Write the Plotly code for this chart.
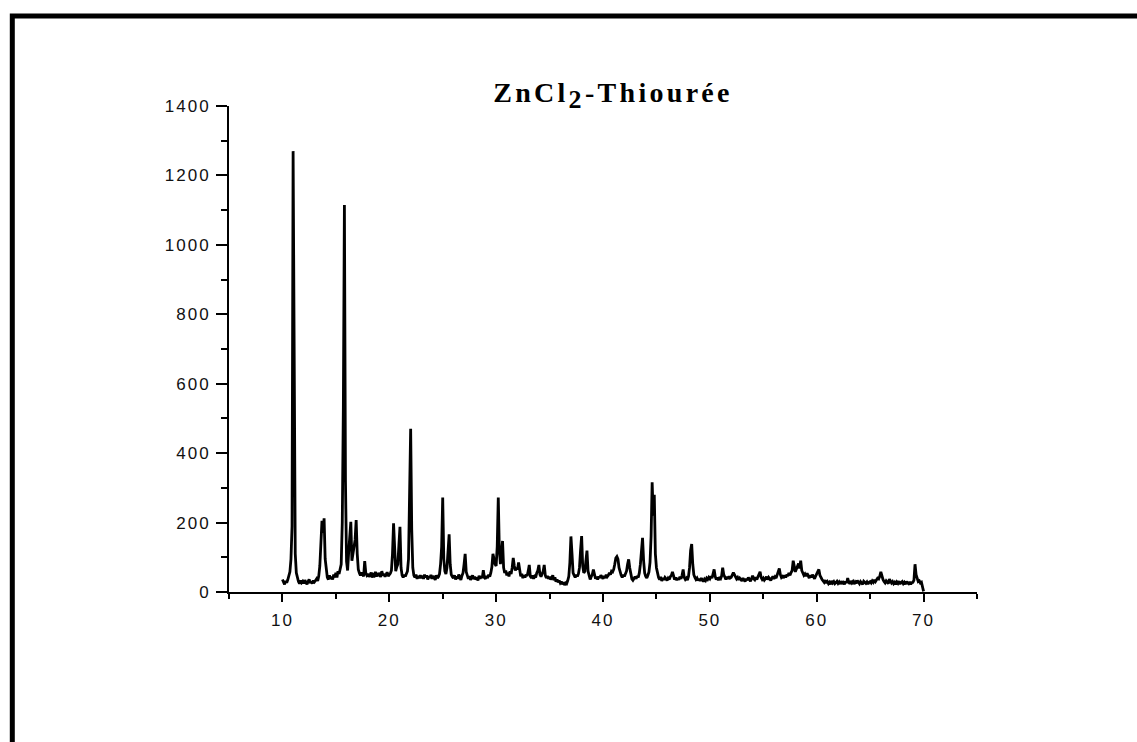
import plotly.graph_objects as go

# XRD scan: 2-theta start/step and measured intensities (one row per degree)
two_theta_start = 10.0
two_theta_step = 0.1
intensity = [
    36, 30, 22, 32, 27, 35, 44, 58, 95, 190,        # 10
    1270, 420, 110, 55, 38, 30, 24, 33, 27, 31,     # 11
    25, 34, 28, 22, 30, 36, 26, 31, 24, 33,         # 12
    29, 35, 38, 32, 46, 75, 150, 205, 170, 212,     # 13
    95, 55, 42, 36, 48, 38, 44, 36, 50, 42,         # 14
    55, 42, 60, 52, 68, 80, 200, 530, 1115, 320,    # 15
    88, 62, 115, 170, 202, 90, 105, 130, 150, 207,  # 16
    110, 65, 55, 48, 56, 50, 45, 89, 55, 48,        # 17
    52, 44, 48, 56, 42, 50, 47, 58, 45, 51,         # 18
    49, 55, 43, 60, 48, 52, 44, 50, 57, 46,         # 19
    50, 54, 62, 110, 198, 120, 60, 72, 80, 135,     # 20
    188, 70, 48, 42, 50, 45, 52, 60, 95, 300,       # 21
    470, 180, 70, 48, 42, 50, 38, 46, 40, 48,       # 22
    40, 47, 38, 50, 42, 48, 36, 45, 41, 49,         # 23
    38, 46, 42, 35, 48, 40, 44, 52, 80, 130,        # 24
    272, 95, 60, 52, 70, 110, 166, 80, 50, 44,      # 25
    40, 48, 36, 45, 38, 50, 42, 35, 47, 55,         # 26
    80, 110, 58, 44, 38, 46, 35, 42, 48, 37,        # 27
    44, 36, 42, 33, 47, 38, 45, 40, 63, 42,         # 28
    38, 46, 40, 50, 44, 55, 72, 110, 90, 80,        # 29
    75, 130, 272, 120, 80, 110, 147, 70, 55, 62,    # 30
    48, 56, 45, 60, 52, 70, 98, 75, 62, 70,         # 31
    65, 85, 58, 45, 52, 40, 48, 42, 50, 46,         # 32
    60, 78, 45, 40, 48, 38, 45, 42, 55, 62,         # 33
    78, 50, 44, 52, 60, 78, 48, 40, 46, 38,         # 34
    44, 36, 40, 48, 34, 42, 30, 36, 28, 33,         # 35
    26, 30, 22, 28, 20, 26, 24, 33, 45, 85,         # 36
    160, 110, 55, 48, 42, 50, 45, 52, 70, 120,      # 37
    161, 75, 55, 60, 85, 119, 60, 42, 36, 44,       # 38
    50, 65, 48, 38, 44, 36, 45, 40, 48, 42,         # 39
    38, 46, 40, 50, 44, 48, 55, 50, 60, 58,         # 40
    65, 80, 98, 102, 95, 70, 55, 48, 42, 50,        # 41
    45, 52, 60, 80, 94, 70, 48, 38, 34, 40,         # 42
    44, 38, 46, 42, 55, 80, 130, 156, 90, 55,       # 43
    45, 40, 48, 58, 85, 160, 316, 220, 280, 110,    # 44
    70, 50, 42, 36, 44, 32, 40, 35, 42, 38,         # 45
    33, 40, 36, 44, 48, 58, 45, 36, 42, 34,         # 46
    40, 35, 44, 38, 48, 65, 42, 36, 40, 34,         # 47
    45, 70, 120, 138, 80, 50, 42, 36, 40, 33,       # 48
    38, 32, 40, 35, 30, 37, 33, 40, 36, 42,         # 49
    38, 45, 40, 52, 65, 45, 36, 42, 34, 40,         # 50
    38, 46, 70, 50, 42, 36, 44, 38, 45, 40,         # 51
    42, 48, 56, 50, 44, 38, 42, 35, 40, 36,         # 52
    32, 40, 36, 30, 38, 34, 42, 36, 31, 38,         # 53
    47, 38, 35, 42, 36, 44, 50, 58, 42, 36,         # 54
    40, 34, 38, 44, 36, 42, 38, 33, 40, 45,         # 55
    38, 44, 40, 50, 58, 68, 50, 42, 45, 40,         # 56
    48, 42, 50, 46, 55, 48, 56, 62, 90, 70,         # 57
    58, 66, 75, 82, 68, 90, 62, 55, 48, 52,         # 58
    46, 54, 45, 40, 48, 42, 50, 44, 38, 46,         # 59
    52, 58, 65, 48, 40, 36, 32, 28, 34, 26,         # 60
    30, 24, 28, 22, 32, 26, 30, 24, 27, 31,         # 61
    25, 29, 23, 31, 26, 28, 22, 30, 26, 40,         # 62
    28, 24, 32, 26, 30, 23, 29, 25, 33, 27,         # 63
    24, 30, 26, 22, 31, 27, 25, 29, 23, 28,         # 64
    30, 26, 32, 28, 35, 30, 36, 40, 38, 45,         # 65
    58, 44, 36, 30, 26, 32, 28, 24, 37, 30,         # 66
    26, 30, 24, 28, 22, 29, 25, 31, 23, 27,         # 67
    30, 24, 28, 22, 30, 26, 24, 29, 22, 27,         # 68
    28, 34, 80, 50, 36, 30, 32, 26, 28, 18,         # 69
    2,                                              # 70
]
two_theta = [round(two_theta_start + i * two_theta_step, 2) for i in range(len(intensity))]

x_tick_values = [10, 20, 30, 40, 50, 60, 70]
y_tick_values = [0, 200, 400, 600, 800, 1000, 1200, 1400]
title_text = "ZnCl<sub><span style=\"font-size:26px\">2</span></sub>-Thiourée"

W, H = 1137, 742
L, R, T, B = 229, 160, 106, 150

fig = go.Figure()
fig.add_trace(go.Scatter(
    x=two_theta, y=intensity, mode="lines",
    line=dict(color="black", width=2.8), showlegend=False, hoverinfo="skip",
))

tick_font = dict(family="Arial, Liberation Sans, sans-serif", size=17, color="#111111")

fig.update_layout(
    width=W, height=H, autosize=False,
    margin=dict(l=L, r=R, t=T, b=B, pad=0),
    paper_bgcolor="white", plot_bgcolor="white",
    title=dict(
        text=title_text, xref="container", yref="container",
        x=613 / W, xanchor="center", y=1 - 92.0 / H, yanchor="middle",
        font=dict(family="Times New Roman, Liberation Serif, serif", size=28, color="black", weight="bold"),
    ),
    xaxis=dict(
        range=[5, 75], tickmode="array", tickvals=x_tick_values,
        showgrid=False, zeroline=False, showline=True, linecolor="black", linewidth=2,
        ticks="outside", ticklen=8, tickwidth=2, tickcolor="black",
        minor=dict(dtick=5, tick0=0, ticks="outside", ticklen=5, tickwidth=2, tickcolor="black", showgrid=False),
        tickfont=tick_font, ticklabelstandoff=4,
    ),
    yaxis=dict(
        range=[0, 1400], tickmode="array", tickvals=y_tick_values,
        showgrid=False, zeroline=False, showline=True, linecolor="black", linewidth=2,
        ticks="outside", ticklen=11, tickwidth=2, tickcolor="black",
        minor=dict(dtick=100, tick0=0, ticks="outside", ticklen=6, tickwidth=2, tickcolor="black", showgrid=False),
        tickfont=tick_font, ticklabelstandoff=2,
    ),
)

# decorative frame (left and top edges of the original page border)
pw, ph = W - L - R, H - T - B
def px_x(p):
    return (p - L) / pw
def px_y(p):
    return (H - B - p) / ph
fig.add_shape(type="rect", xref="paper", yref="paper",
              x0=px_x(12.3), x1=px_x(W + 20), y0=px_y(H + 20), y1=px_y(15.9),
              line=dict(color="black", width=5), fillcolor="rgba(0,0,0,0)", layer="above")

post = """
var gd = document.getElementById('{plot_id}');
function widen(){
  gd.querySelectorAll('.xtick text, .ytick text').forEach(function(t){ t.style.letterSpacing='2px'; });
  gd.querySelectorAll('.gtitle').forEach(function(t){ t.style.letterSpacing='3.3px'; });
}
widen();
if (gd.on) { gd.on('plotly_afterplot', widen); }
"""

fig.write_html("out.html", post_script=post)
